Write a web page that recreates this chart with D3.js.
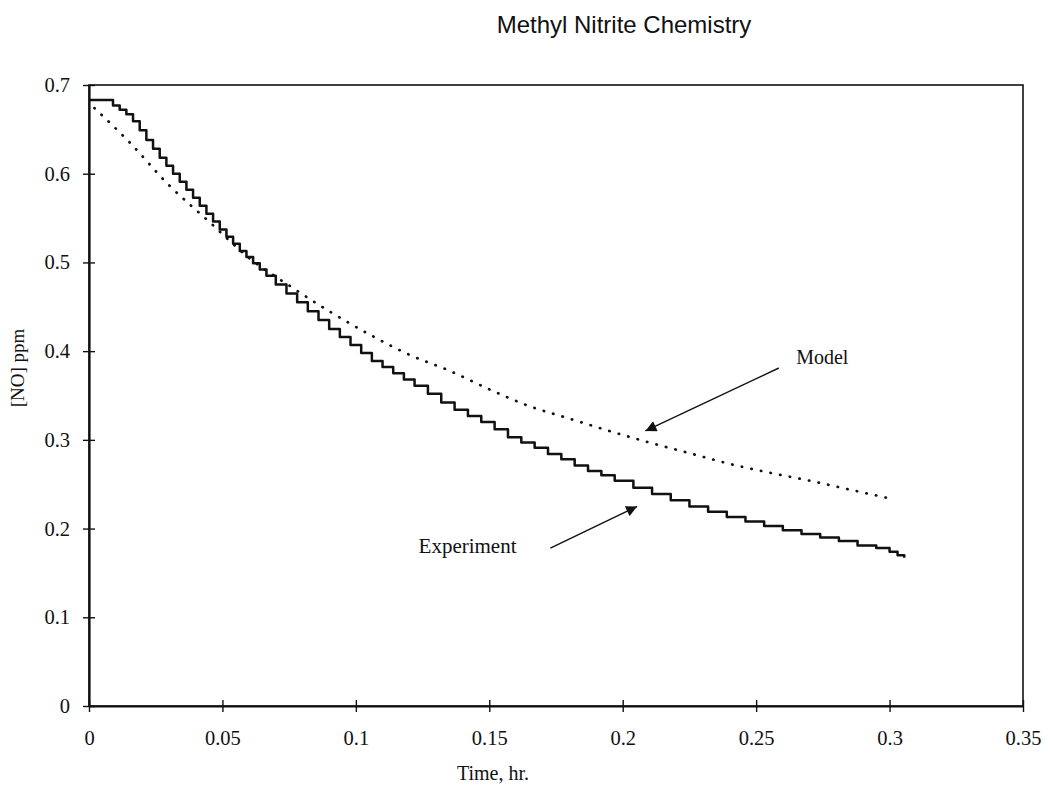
<!DOCTYPE html>
<html><head><meta charset="utf-8">
<script src="https://cdn.jsdelivr.net/npm/d3@7"></script>
<style>
body{margin:0;background:#fff;}
svg{display:block;}
</style></head>
<body>
<script>
// ---- data ----
const title = "Methyl Nitrite Chemistry";
const xTicks = [0, 0.05, 0.1, 0.15, 0.2, 0.25, 0.3, 0.35];
const xTickLabels = ["0", "0.05", "0.1", "0.15", "0.2", "0.25", "0.3", "0.35"];
const yTicks = [0, 0.1, 0.2, 0.3, 0.4, 0.5, 0.6, 0.7];
const yTickLabels = ["0", "0.1", "0.2", "0.3", "0.4", "0.5", "0.6", "0.7"];

// Experiment (stair-stepped measurement trace)
const expTime = [0, 0.009, 0.0115, 0.014, 0.0165, 0.019, 0.0215, 0.024, 0.0265, 0.029, 0.0315, 0.034, 0.0365, 0.039, 0.0415, 0.044, 0.0465, 0.049, 0.0515, 0.054, 0.0565, 0.059, 0.0615, 0.064, 0.0665,
  0.070, 0.074, 0.078, 0.082, 0.086, 0.090, 0.094, 0.098, 0.102, 0.106, 0.110, 0.114, 0.118, 0.122,
  0.127, 0.132, 0.137, 0.142, 0.147, 0.152, 0.157, 0.162, 0.167, 0.172, 0.177, 0.182, 0.187, 0.192, 0.197,
  0.204, 0.211, 0.218, 0.225, 0.232, 0.239, 0.246, 0.253, 0.260, 0.267, 0.274, 0.281, 0.288, 0.295, 0.300, 0.303, 0.3055];
const expNO = [0.683, 0.677, 0.672, 0.667, 0.659, 0.649, 0.638, 0.628, 0.618, 0.609, 0.600, 0.591, 0.582, 0.573, 0.564, 0.555, 0.546, 0.537, 0.529, 0.521, 0.513, 0.506, 0.499, 0.492, 0.485,
  0.475, 0.465, 0.455, 0.445, 0.435, 0.425, 0.416, 0.407, 0.398, 0.389, 0.382, 0.375, 0.368, 0.361,
  0.352, 0.342, 0.334, 0.327, 0.320, 0.312, 0.303, 0.297, 0.291, 0.284, 0.278, 0.271, 0.265, 0.260, 0.254,
  0.246, 0.239, 0.232, 0.225, 0.219, 0.213, 0.208, 0.203, 0.198, 0.194, 0.190, 0.186, 0.181, 0.178, 0.174, 0.170, 0.167];

// Model (dotted)
const modelTime = [0.002, 0.015, 0.03, 0.045, 0.06, 0.075, 0.09, 0.105, 0.12, 0.135, 0.15, 0.165, 0.18, 0.195, 0.21, 0.225, 0.24, 0.255, 0.27, 0.285, 0.3];
const modelNO = [0.674, 0.636, 0.587, 0.546, 0.505, 0.474, 0.445, 0.419, 0.396, 0.378, 0.357, 0.338, 0.324, 0.310, 0.297, 0.285, 0.273, 0.263, 0.254, 0.244, 0.234];

// annotations
const annModel = {text: "Model", tx: 0.265, ty: 0.385, from: [0.2585, 0.381], to: [0.2085, 0.310]};
const annExp = {text: "Experiment", tx: 0.1235, ty: 0.172, from: [0.1729, 0.178], to: [0.2054, 0.225]};

// ---- drawing ----
const W = 1046, H = 791;
const M = {left: 89, right: 1023, top: 85, bottom: 706};
const svg = d3.select("body").append("svg").attr("width", W).attr("height", H);

const x = d3.scaleLinear().domain([0, 0.35]).range([M.left, M.right]);
const y = d3.scaleLinear().domain([0, 0.7]).range([M.bottom, M.top]);

const serif = "'Liberation Serif','Times New Roman',serif";

// frame
svg.append("rect").attr("x", M.left).attr("y", M.top)
  .attr("width", M.right - M.left).attr("height", M.bottom - M.top)
  .attr("fill", "none").attr("stroke", "#111").attr("stroke-width", 1.6);

// axes
const xAxis = d3.axisBottom(x).tickValues(xTicks).tickSize(6).tickSizeOuter(0)
  .tickFormat((d, i) => xTickLabels[i]);
const gx = svg.append("g").attr("transform", `translate(0,${M.bottom})`).call(xAxis);
gx.select(".domain").attr("stroke", "#111").attr("stroke-width", 2.2);
gx.selectAll(".tick line").attr("stroke", "#111").attr("stroke-width", 1.4).attr("y1", -6).attr("y2", 6);
gx.selectAll(".tick text").attr("font-family", serif).attr("font-size", 20.5).attr("fill", "#111").attr("dy", null).attr("y", 39);

const yAxis = d3.axisLeft(y).tickValues(yTicks).tickSize(6).tickSizeOuter(0)
  .tickFormat((d, i) => yTickLabels[i]);
const gy = svg.append("g").attr("transform", `translate(${M.left},0)`).call(yAxis);
gy.select(".domain").attr("stroke", "#111").attr("stroke-width", 2.2);
gy.selectAll(".tick line").attr("stroke", "#111").attr("stroke-width", 1.4).attr("x1", 6).attr("x2", -6);
gy.selectAll(".tick text").attr("font-family", serif).attr("font-size", 20.5).attr("fill", "#111").attr("x", -19);

// lines
const expData = expTime.map((t, i) => [t, expNO[i]]);
const modelData = modelTime.map((t, i) => [t, modelNO[i]]);

svg.append("path").datum(modelData)
  .attr("d", d3.line().x(d => x(d[0])).y(d => y(d[1])).curve(d3.curveMonotoneX))
  .attr("fill", "none").attr("stroke", "#111").attr("stroke-width", 2.7)
  .attr("stroke-linecap", "round").attr("stroke-dasharray", "0.4 9.4");

svg.append("path").datum(expData)
  .attr("d", d3.line().x(d => x(d[0])).y(d => y(d[1])).curve(d3.curveStepAfter))
  .attr("fill", "none").attr("stroke", "#111").attr("stroke-width", 2.5)
  .attr("stroke-linejoin", "round");

// arrow marker
svg.append("defs").append("marker").attr("id", "arr")
  .attr("viewBox", "0 0 10 10").attr("refX", 10).attr("refY", 5)
  .attr("markerWidth", 13).attr("markerHeight", 11).attr("markerUnits", "userSpaceOnUse")
  .attr("orient", "auto")
  .append("path").attr("d", "M0,0 L10,5 L0,10 z").attr("fill", "#111");

[annModel, annExp].forEach(a => {
  svg.append("line")
    .attr("x1", x(a.from[0])).attr("y1", y(a.from[1]))
    .attr("x2", x(a.to[0])).attr("y2", y(a.to[1]))
    .attr("stroke", "#111").attr("stroke-width", 1.4).attr("marker-end", "url(#arr)");
  svg.append("text").attr("x", x(a.tx)).attr("y", y(a.ty))
    .attr("font-family", serif).attr("font-size", a === annExp ? 21 : 20).attr("fill", "#111")
    .text(a.text);
});

// titles
svg.append("text").attr("x", 624).attr("y", 33).attr("text-anchor", "middle")
  .attr("font-family", "'Liberation Sans',Arial,sans-serif").attr("font-size", 24).attr("fill", "#111")
  .text(title);
svg.append("text").attr("x", 493).attr("y", 780).attr("text-anchor", "middle")
  .attr("font-family", serif).attr("font-size", 20).attr("fill", "#111").text("Time, hr.");
svg.append("text").attr("transform", "translate(24,368) rotate(-90)").attr("text-anchor", "middle")
  .attr("font-family", serif).attr("font-size", 19).attr("fill", "#111").text("[NO] ppm");
</script>
</body></html>
